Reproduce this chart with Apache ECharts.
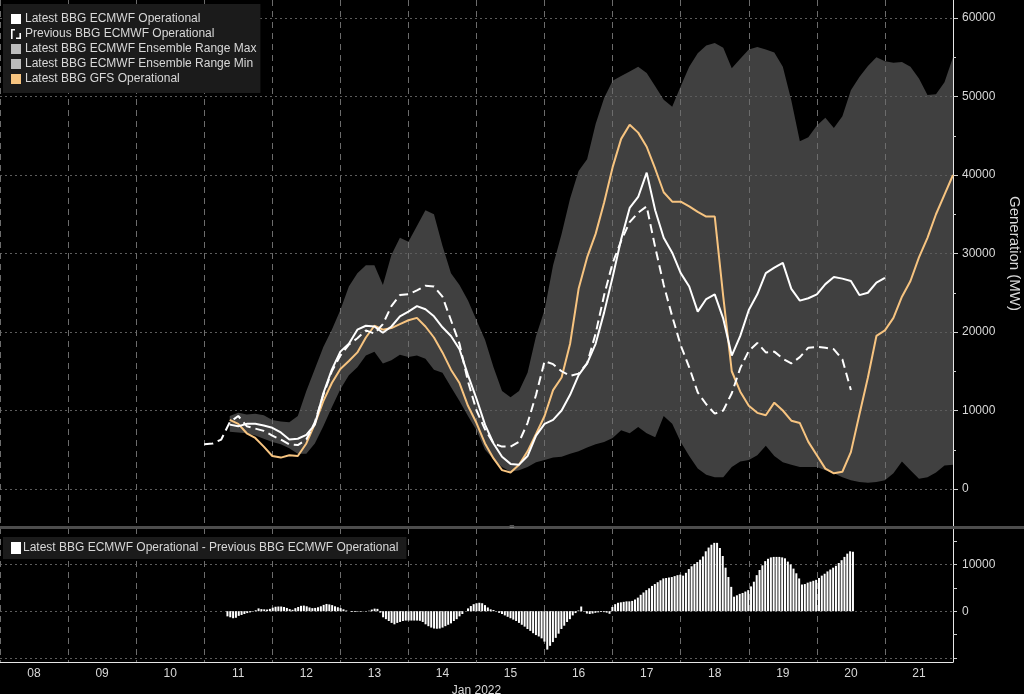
<!DOCTYPE html>
<html>
<head>
<meta charset="utf-8">
<title>ECMWF / GFS wind generation</title>
<script src="https://cdn.jsdelivr.net/npm/echarts@6/dist/echarts.min.js"></script>
<style>
    html, body { margin: 0; padding: 0; background: #000; }
    #chart { width: 1024px; height: 694px; }
</style>
</head>
<body>
<div id="chart"></div>
<script>
// 日期标签 (2022年1月)
const dayLabels = ['08', '09', '10', '11', '12', '13', '14', '15', '16', '17', '18', '19', '20', '21'];

const HOUR = 3600 * 1000;
const axisStart = Date.UTC(2022, 0, 8, 0);
const axisEnd = Date.UTC(2022, 0, 22, 0);

// 集合预报范围与 GFS：1月11日09时起，每3小时
const ensStart = Date.UTC(2022, 0, 11, 9);
const ensMax = [
    9300, 9700, 9500, 9600, 9400, 8800, 8600, 8500, 9300, 12500,
    15300, 18100, 20300, 22800, 25800, 27500, 28500, 28500, 26000, 29800,
    32000, 31500, 33500, 35500, 35000, 31000, 27500, 26000, 24000, 21500,
    19000, 15500, 12500, 11700, 12500, 14800, 19500, 22800, 28500, 32500,
    37000, 40500, 42000, 46500, 49800, 52000, 52600, 53200, 53800, 53000,
    51300, 49600, 48700, 51300, 53800, 55500, 56500, 56800, 56200, 53600,
    54800, 56000, 56300, 56000, 55600, 53800, 49500, 44300, 44800, 46300,
    47300, 46000, 47500, 50800, 52500, 53900, 55000, 54500, 54300, 54400,
    53800, 52300, 50200, 50300, 51800, 55000
];
const ensMin = [
    7300, 7200, 7100, 6800, 6400, 6000, 5700, 5200, 4500, 4500,
    5800, 8000, 10400, 12700, 14500, 15500, 17000, 17500, 16000, 16400,
    17100, 16800, 17000, 16600, 15200, 14800, 13000, 11200, 9300, 7500,
    5000, 3800, 2800, 2200, 2400, 2800, 3400, 3700, 4000, 4100,
    4500, 4800, 5300, 5700, 6000, 6500, 7500, 7100, 7900, 7100,
    6600, 9300, 8300, 6000, 4200, 2600, 1800, 1500, 1500, 2800,
    3500, 3700, 4300, 5500, 4200, 3400, 3100, 2800, 2800, 2800,
    2400, 2000, 1500, 1100, 900, 800, 900, 1100, 2000, 3500,
    2400, 1300, 1500, 2100, 3000, 3100
];
const gfsOp = [
    8800, 8300, 7100, 6500, 5400, 4200, 4000, 4300, 4200, 5800,
    8300, 11200, 13500, 15300, 16300, 17400, 19300, 20800, 20300, 20500,
    21000, 21500, 21800, 20700, 19300, 17400, 15200, 13500, 10600, 8400,
    5800, 3900, 2400, 2100, 3100, 4800, 7000, 9300, 12600, 14200,
    18500, 25500, 29500, 32500, 36500, 41000, 44600, 46400, 45400, 43600,
    40800, 37800, 36600, 36600, 36000, 35300, 34700, 34700, 24500, 15000,
    12400, 10600, 9700, 9400, 11000, 10000, 8700, 8400, 6000, 4300,
    2600, 2000, 2200, 4700, 9500, 14200, 19500, 20200, 21800, 24500,
    26500, 29500, 32000, 35000, 37500, 40000
];

// 最新 ECMWF：1月11日09时起，每3小时
const latestStart = Date.UTC(2022, 0, 11, 9);
const latestOp = [
    8200, 8000, 8300, 8300, 8100, 7800, 7200, 6300, 6400, 6900,
    8200, 12200, 15200, 17500, 18500, 20300, 20800, 20700, 19900, 20700,
    22000, 22600, 23300, 22900, 22000, 20600, 19500, 17800, 14500, 11500,
    8200, 5800, 4100, 3200, 3100, 4200, 6800, 8300, 8800, 10000,
    12000, 14500, 16000, 18500, 22500, 27000, 31800, 35800, 37200, 40300,
    35500, 32000, 30100, 27500, 25800, 22600, 24200, 24800, 21700, 17000,
    19500, 22800, 24800, 27500, 28200, 28800, 25500, 24000, 24300, 24800,
    26100, 27000, 26800, 26500, 24700, 25000, 26300, 26900
];

// 上一期 ECMWF：1月11日00时起，每3小时
const prevStart = Date.UTC(2022, 0, 11, 0);
const prevOp = [
    5700, 5800, 6300, 8500, 9300, 8000, 7700, 7400, 6800, 6300,
    5700, 5600, 6300, 8500, 12000, 15000, 17000, 18400, 19200, 20200,
    19800, 21000, 23300, 24700, 24800, 25300, 25900, 25800, 24500, 21500,
    18500, 13700, 10000, 7600, 5800, 5400, 5400, 6000, 8400, 12000,
    16300, 15900, 15000, 14400, 14700, 16000, 19800, 24700, 28800, 31600,
    34000, 35200, 36000, 30800, 26000, 22000, 18300, 15500, 12300, 10800,
    9600, 10000, 12200, 15400, 17600, 18600, 17400, 17500, 16600, 16000,
    16800, 18000, 18100, 18000, 17800, 16500, 12600
];

// 差值柱：1月11日08时起，每小时
const diffStart = Date.UTC(2022, 0, 11, 8);
const diffBars = [
    // 11日
    -1100, -1300, -1500, -1400, -1000, -800, -600, -400, -250, -100, 200, 600, 450, 400, 350, 500,
    // 12日
    750, 950, 1000, 1000, 900, 700, 450, 300, 650, 900, 1150, 1200,
    1050, 800, 650, 700, 850, 1050, 1350, 1550, 1450, 1300, 1050, 850,
    // 13日
    650, 400, 150, 0, -150, -150, -100, -100, -50, -50, 100, 350,
    550, 500, -300, -1300, -1700, -2100, -2500, -2800, -2500, -2300, -2100, -2000,
    // 14日
    -2000, -2000, -2000, -2000, -2050, -2300, -2800, -3200, -3500, -3700, -3750, -3700,
    -3500, -3200, -2900, -2600, -2100, -1700, -1100, -600, 0, 600, 1100, 1500,
    // 15日
    1700, 1800, 1700, 1300, 800, 400, 250, -50, -350, -600, -900, -1200,
    -1500, -1800, -2100, -2500, -2900, -3300, -3800, -4200, -4700, -5100, -5400, -5800,
    // 16日
    -6500, -8200, -7400, -6600, -5700, -4800, -3800, -3100, -2300, -1700, -900, -400,
    150, 1000, -100, -500, -600, -500, -350, -250, -150, -200, -300, -550,
    // 17日
    900, 1500, 1800, 1900, 2000, 2100, 2100, 2200, 2500, 2900, 3500, 4000,
    4500, 4900, 5400, 5800, 6200, 6600, 7000, 7100, 7200, 7300, 7500, 7700,
    // 18日
    7800, 7600, 8200, 9000, 9600, 10100, 10500, 11000, 11700, 12800, 13600, 14200,
    14600, 14600, 13500, 11800, 9300, 7300, 5200, 3100, 3400, 3700, 3900, 4200,
    // 19日
    4500, 5300, 6300, 7700, 8800, 9800, 10700, 11200, 11500, 11600, 11600, 11600,
    11500, 11300, 10600, 10000, 9100, 8100, 7000, 5700, 5800, 6100, 6300, 6500,
    // 20日
    6700, 7100, 7600, 8000, 8500, 8900, 9300, 9700, 10300, 10900, 11600, 12300, 12800, 12700
];

// 系列名称
const NAME_LATEST = 'Latest BBG ECMWF Operational';
const NAME_PREV = 'Previous BBG ECMWF Operational';
const NAME_MAX = 'Latest BBG ECMWF Ensemble Range Max';
const NAME_MIN = 'Latest BBG ECMWF Ensemble Range Min';
const NAME_GFS = 'Latest BBG GFS Operational';
const NAME_DIFF = 'Latest BBG ECMWF Operational - Previous BBG ECMWF Operational';

const FONT = 'Liberation Sans';
const TEXT_COLOR = '#d8d8d8';

// 把起始时间 + 步长 + 数值 转成 [时间, 值]
function toPairs(start, step, values) {
    return values.map((v, i) => [start + i * step, v]);
}

// 集合范围用堆叠面积：下沿为最小值，上层为(最大-最小)
const ensMinPairs = toPairs(ensStart, 3 * HOUR, ensMin);
const ensSpanPairs = toPairs(ensStart, 3 * HOUR, ensMax.map((v, i) => v - ensMin[i]));

function initChart() {
    let chart = echarts.init(document.getElementById('chart'));

    let option = {
        backgroundColor: '#000',
        animation: false,
        textStyle: { fontFamily: FONT },
        legend: [
            {
                orient: 'vertical',
                left: 3,
                top: 4,
                padding: [9, 4, 8, 8],
                itemGap: 3,
                itemWidth: 10,
                itemHeight: 10,
                selectedMode: false,
                backgroundColor: '#1b1b1b',
                textStyle: { color: TEXT_COLOR, fontSize: 12, fontFamily: FONT, padding: [0, 0, 0, -1] },
                data: [
                    { name: NAME_LATEST, icon: 'rect' },
                    { name: NAME_PREV, icon: 'path://M0,0H4V1.6H1.6V10H0Z M10,10H5V8.4H8.4V4H10Z' },
                    { name: NAME_MAX, icon: 'rect' },
                    { name: NAME_MIN, icon: 'rect' },
                    { name: NAME_GFS, icon: 'rect' }
                ]
            },
            {
                orient: 'vertical',
                left: 3,
                top: 537,
                padding: [5, 8, 5, 8],
                itemWidth: 10,
                itemHeight: 12,
                selectedMode: false,
                backgroundColor: '#1b1b1b',
                textStyle: { color: TEXT_COLOR, fontSize: 12, fontFamily: FONT, padding: [0, 0, 0, -3] },
                data: [{ name: NAME_DIFF, icon: 'rect' }]
            }
        ],
        graphic: [
            // 上下两个面板之间的分隔条
            { type: 'rect', shape: { x: 0, y: 526, width: 1024, height: 3 }, style: { fill: '#4d4d4d' }, z: 100 },
            {
                type: 'text', x: 512, y: 527, z: 101,
                style: { text: '=', fill: '#a0a0a0', font: '9px ' + FONT, align: 'center', verticalAlign: 'middle' }
            }
        ],
        grid: [
            // 背景网格：日期分隔线、底部日期、右侧轴线
            { left: 0, right: 71, top: 0, bottom: 32, outerBoundsMode: 'none' },
            // 上面板：发电量
            { left: 0, right: 71, top: 18, height: 471, outerBoundsMode: 'none' },
            // 下面板：差值
            { left: 0, right: 71, top: 541, height: 117, outerBoundsMode: 'none' }
        ],
        xAxis: [
            {
                gridIndex: 0,
                type: 'category',
                data: dayLabels,
                boundaryGap: true,
                z: 1,
                axisLine: { show: true, lineStyle: { color: '#e6e6e6', width: 1 } },
                axisTick: { show: false },
                axisLabel: { color: TEXT_COLOR, fontSize: 12, margin: 6, interval: 0 },
                splitLine: { show: true, interval: 0, lineStyle: { color: '#6c6c6c', type: [6, 5] } },
                name: 'Jan 2022',
                nameLocation: 'middle',
                nameGap: 20,
                nameTextStyle: { color: TEXT_COLOR, fontSize: 12 }
            },
            { gridIndex: 1, type: 'time', min: axisStart, max: axisEnd, show: false },
            { gridIndex: 2, type: 'time', min: axisStart, max: axisEnd, show: false }
        ],
        yAxis: [
            {
                gridIndex: 0,
                type: 'value',
                position: 'right',
                min: 0,
                max: 1,
                z: 1,
                axisLine: { show: true, lineStyle: { color: '#e6e6e6', width: 1 } },
                axisTick: { show: false },
                axisLabel: { show: false },
                splitLine: { show: false }
            },
            {
                gridIndex: 1,
                type: 'value',
                position: 'right',
                min: 0,
                max: 60000,
                interval: 10000,
                z: 1,
                axisLine: { show: false },
                axisTick: { show: true, length: 5, lineStyle: { color: '#d0d0d0' } },
                minorTick: { show: true, splitNumber: 2, length: 3, lineStyle: { color: '#d0d0d0' } },
                axisLabel: { color: TEXT_COLOR, fontSize: 12, margin: 9, formatter: v => String(v) },
                splitLine: { show: true, lineStyle: { color: '#5c5c5c', type: [2, 3] } },
                name: 'Generation (MW)',
                nameLocation: 'middle',
                nameRotate: -90,
                nameGap: 54,
                nameTextStyle: { color: TEXT_COLOR, fontSize: 15 }
            },
            {
                gridIndex: 2,
                type: 'value',
                position: 'right',
                min: -10000,
                max: 15000,
                interval: 5000,
                z: 1,
                axisLine: { show: false },
                axisTick: { show: true, length: 4, lineStyle: { color: '#d0d0d0' } },
                axisLabel: {
                    color: TEXT_COLOR, fontSize: 12, margin: 9,
                    formatter: v => (v === 0 || v === 10000) ? String(v) : ''
                },
                splitLine: { show: true, showMaxLine: false, lineStyle: { color: ['#5c5c5c', 'transparent'], type: [2, 3] } }
            }
        ],
        series: [
            {
                name: NAME_MIN,
                type: 'line',
                xAxisIndex: 1,
                yAxisIndex: 1,
                stack: 'ens',
                z: 0,
                symbol: 'none',
                color: '#bdbdbd',
                lineStyle: { width: 0, opacity: 0 },
                data: ensMinPairs
            },
            {
                name: NAME_MAX,
                type: 'line',
                xAxisIndex: 1,
                yAxisIndex: 1,
                stack: 'ens',
                z: 0,
                symbol: 'none',
                color: '#bdbdbd',
                lineStyle: { width: 0, opacity: 0 },
                areaStyle: { color: 'rgba(255,255,255,0.25)', opacity: 1 },
                data: ensSpanPairs
            },
            {
                name: NAME_GFS,
                type: 'line',
                xAxisIndex: 1,
                yAxisIndex: 1,
                symbol: 'none',
                color: '#f7c480',
                lineStyle: { width: 2, color: '#f7c480' },
                data: toPairs(ensStart, 3 * HOUR, gfsOp)
            },
            {
                name: NAME_PREV,
                type: 'line',
                xAxisIndex: 1,
                yAxisIndex: 1,
                symbol: 'none',
                color: '#ffffff',
                lineStyle: { width: 2, color: '#ffffff', type: [9, 5] },
                data: toPairs(prevStart, 3 * HOUR, prevOp)
            },
            {
                name: NAME_LATEST,
                type: 'line',
                xAxisIndex: 1,
                yAxisIndex: 1,
                symbol: 'none',
                color: '#ffffff',
                lineStyle: { width: 2, color: '#ffffff' },
                data: toPairs(latestStart, 3 * HOUR, latestOp)
            },
            {
                name: NAME_DIFF,
                type: 'bar',
                xAxisIndex: 2,
                yAxisIndex: 2,
                barWidth: 2,
                color: '#ffffff',
                itemStyle: { color: '#ffffff' },
                data: toPairs(diffStart, HOUR, diffBars)
            }
        ]
    };

    chart.setOption(option);
}

initChart();
</script>
</body>
</html>
